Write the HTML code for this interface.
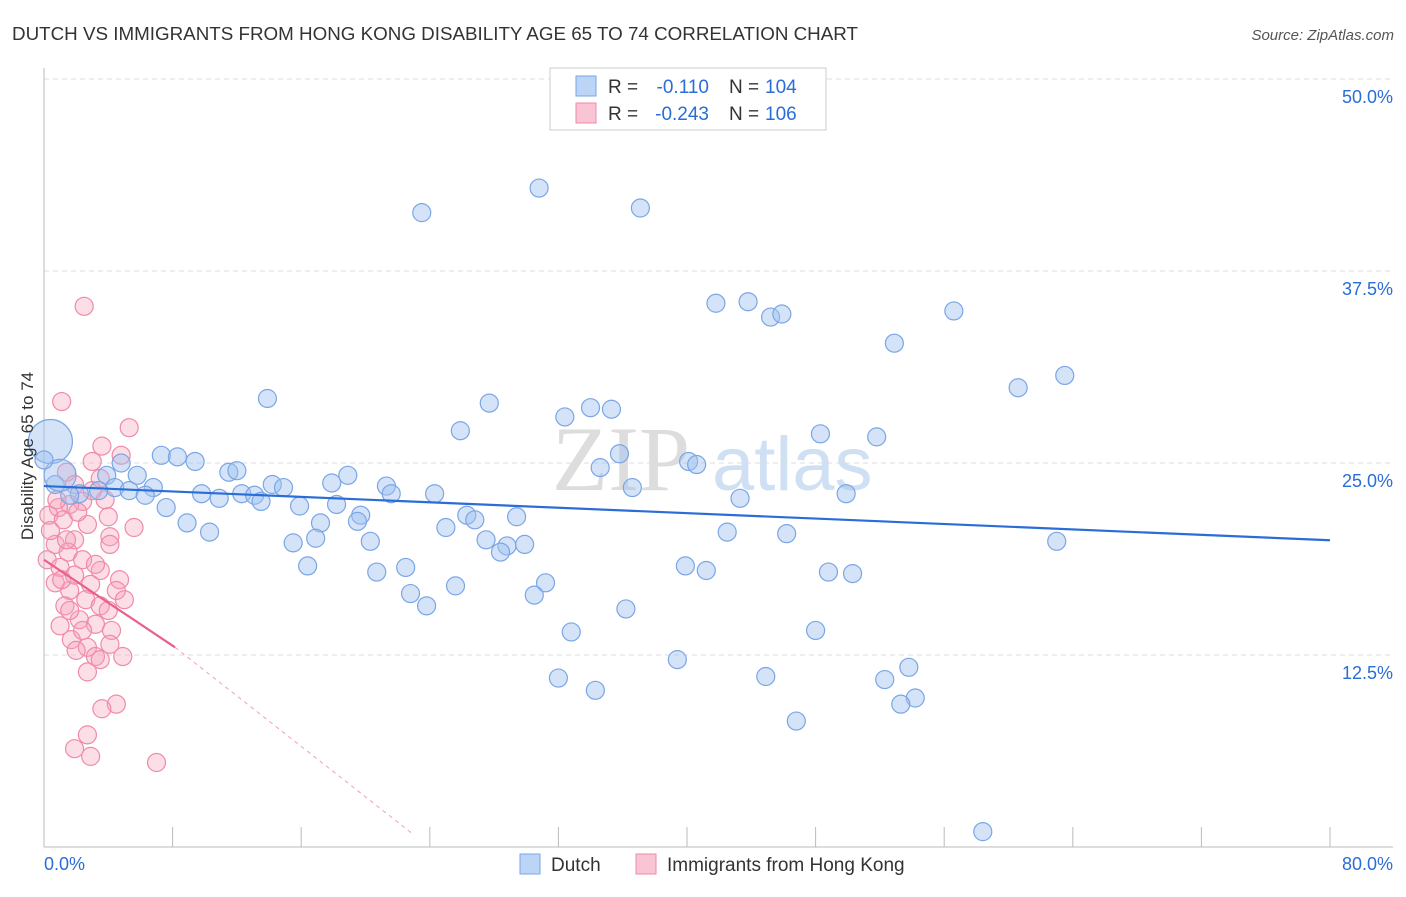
<!DOCTYPE html>
<html><head><meta charset="utf-8"><style>
body{margin:0;background:#fff;font-family:"Liberation Sans",sans-serif}
</style></head><body>
<svg id="chart" width="1406" height="892" viewBox="0 0 1406 892" xmlns="http://www.w3.org/2000/svg" font-family="Liberation Sans, sans-serif">
<text x="12" y="40" font-size="18.5" fill="#333" textLength="846" lengthAdjust="spacingAndGlyphs">DUTCH VS IMMIGRANTS FROM HONG KONG DISABILITY AGE 65 TO 74 CORRELATION CHART</text>
<text x="1394" y="40" font-size="15" fill="#555" text-anchor="end" font-style="italic">Source: ZipAtlas.com</text>
<g><text x="552" y="490" font-size="92" fill="#ddd" font-family="Liberation Serif, serif">ZIP</text><text x="712" y="490" font-size="76" fill="#cfe0f4">atlas</text></g>
<g id="grid"></g><g id="axes"></g><g id="pts"></g><g id="lines"></g>
<text transform="translate(33,456) rotate(-90)" font-size="17" fill="#333" text-anchor="middle">Disability Age 65 to 74</text>
<g>
<rect x="550" y="68" width="276" height="62" fill="#fff" stroke="#ccc"/>
<rect x="576" y="76" width="20" height="20" fill="#bcd4f5" stroke="#7aa6e6"/>
<rect x="576" y="103" width="20" height="20" fill="#f9c5d4" stroke="#f08aa8"/>
<text x="608" y="93" font-size="19" fill="#333">R =</text>
<text x="709" y="93" font-size="19" fill="#2a6dd6" text-anchor="end">-0.110</text>
<text x="729" y="93" font-size="19" fill="#333">N =</text>
<text x="765" y="93" font-size="19" fill="#2a6dd6">104</text>
<text x="608" y="120" font-size="19" fill="#333">R =</text>
<text x="709" y="120" font-size="19" fill="#2a6dd6" text-anchor="end">-0.243</text>
<text x="729" y="120" font-size="19" fill="#333">N =</text>
<text x="765" y="120" font-size="19" fill="#2a6dd6">106</text>
</g>
<g>
<rect x="520" y="854" width="20" height="20" fill="#bcd4f5" stroke="#7aa6e6"/>
<text x="551" y="871" font-size="19" fill="#333">Dutch</text>
<rect x="636" y="854" width="20" height="20" fill="#f9c5d4" stroke="#f08aa8"/>
<text x="667" y="871" font-size="19" fill="#333">Immigrants from Hong Kong</text>
</g>
</svg>
<script>
const yTicks=[12.5,25.0,37.5,50.0];
const xTickLabels=["0.0%","80.0%"];
const dutchX=[30.8,23.5,37.1,41.8,43.8,45.2,45.9,56.6,52.9,63.5,60.6,13.9,27.7,32.4,34.0,35.3,25.9,48.3,51.8,35.8,34.6,40.1,40.6,7.3,8.3,9.4,4.8,5.8,3.9,11.5,12.0,18.9,14.2,14.9,17.9,21.3,21.6,24.3,36.6,43.3,49.9,4.4,5.3,6.8,6.3,3.4,2.2,1.6,0.7,9.8,10.9,12.3,13.1,13.5,7.6,15.9,18.2,8.9,10.3,17.2,19.7,19.5,26.3,26.8,29.4,25.0,16.9,15.5,20.3,27.5,28.8,29.9,28.4,42.5,46.2,63.0,16.4,20.7,22.5,39.9,41.2,48.8,50.3,25.6,31.2,22.8,30.5,23.8,36.2,32.8,48.0,39.4,53.8,32.0,44.9,52.3,34.3,54.2,53.3,46.8,58.4,0.4,1.0,0.0];
const dutchY=[42.9,41.3,41.6,35.4,35.5,34.5,34.7,34.9,32.8,30.7,29.9,29.2,28.9,28.0,28.6,28.5,27.1,26.9,26.7,25.6,24.7,25.1,24.9,25.5,25.4,25.1,25.0,24.2,24.2,24.4,24.5,24.2,23.6,23.4,23.7,23.5,23.0,23.0,23.4,22.7,23.0,23.4,23.2,23.4,22.9,23.2,23.0,22.9,23.6,23.0,22.7,23.0,22.9,22.5,22.1,22.2,22.3,21.1,20.5,21.1,21.6,21.2,21.6,21.3,21.5,20.8,20.1,19.8,19.9,20.0,19.6,19.7,19.2,20.5,20.4,19.9,18.3,17.9,18.2,18.3,18.0,17.9,17.8,17.0,17.2,16.5,16.4,15.7,15.5,14.0,14.1,12.2,11.7,11.0,11.1,10.9,10.2,9.7,9.3,8.2,1.0,26.4,24.2,25.2];
const dutchSize=dutchX.map((_,i)=>i===101?22:(i===102?16:9));
const hkX=[2.5,1.1,5.3,3.6,4.8,3.0,1.4,1.9,3.5,3.8,2.4,1.6,0.9,0.3,1.2,2.7,4.0,5.6,4.1,1.9,0.7,1.5,0.2,2.4,1.0,3.5,4.7,2.9,1.6,0.7,2.6,1.3,3.5,2.2,1.0,3.2,4.2,1.7,2.7,2.0,3.2,4.9,2.7,4.5,3.6,2.7,1.9,2.9,7.0,1.4,0.4,0.8,3.0,2.1,1.1,1.6,4.0,4.1,3.5,2.4,4.5,5.0,4.1,1.9,3.2];
const hkY=[35.2,29.0,27.3,26.1,25.5,25.1,24.4,23.6,24.0,22.6,22.5,22.3,22.1,21.6,21.3,21.0,21.5,20.8,20.2,20.0,19.7,19.2,18.7,18.7,18.2,18.0,17.4,17.1,16.7,17.2,16.1,15.7,15.7,14.8,14.4,14.5,14.1,13.5,13.0,12.8,12.4,12.4,11.4,9.3,9.0,7.3,6.4,5.9,5.5,20.0,20.6,22.6,23.2,21.8,17.4,15.4,15.4,13.2,12.2,14.1,16.7,16.1,19.7,17.7,18.4];
const dutchLine=[23.5,19.97];
const hkLine=[18.7,13.0,8.15];
const hkExtEnd=[23.0,0.8];
const NS="http://www.w3.org/2000/svg";
const xs=v=>44+v*1286/80, ys=v=>847-v*15.36;
function mk(t,a,p){const e=document.createElementNS(NS,t);for(const k in a)e.setAttribute(k,a[k]);p.appendChild(e);return e;}
const grid=document.getElementById('grid'),axes=document.getElementById('axes'),pts=document.getElementById('pts'),lines=document.getElementById('lines');
yTicks.forEach(v=>{const l=mk('line',{x1:44,x2:1393,y1:ys(v),y2:ys(v),stroke:'#ddd','stroke-dasharray':'5,4'},grid);


const t=mk('text',{x:1393,y:ys(v)+24,'font-size':18,fill:'#2a6dd6','text-anchor':'end'},grid);t.textContent=v.toFixed(1)+'%';

});
const ya=mk('line',{x1:44,x2:44,y1:68,y2:847,stroke:'#bbb'},axes);


const xa=mk('line',{x1:44,x2:1393,y1:847,y2:847,stroke:'#bbb'},axes);


for(let i=1;i<=10;i++){const tk=mk('line',{x1:xs(i*8),x2:xs(i*8),y1:827,y2:847,stroke:'#bbb'},axes);

}
[[0,'start',44],[80,'end',1393]].forEach((d,i)=>{const t=mk('text',{x:d[2],y:870,'font-size':18,fill:'#2a6dd6','text-anchor':d[1]},axes);t.textContent=xTickLabels[i];

});
hkX.forEach((x,i)=>{const c=mk('circle',{cx:xs(x),cy:ys(hkY[i]),r:9,fill:'rgba(245,160,185,0.35)',stroke:'#f08aa8','stroke-width':1.2},pts);

});
dutchX.forEach((x,i)=>{const c=mk('circle',{cx:xs(x),cy:ys(dutchY[i]),r:dutchSize[i],fill:'rgba(160,192,240,0.45)',stroke:'#7aa6e6','stroke-width':1.2},pts);

});
const dl=mk('line',{x1:xs(0),y1:ys(dutchLine[0]),x2:xs(80),y2:ys(dutchLine[1]),stroke:'#2a6dd6','stroke-width':2.2},lines);


const hl=mk('line',{x1:xs(0),y1:ys(hkLine[0]),x2:xs(hkLine[2]),y2:ys(hkLine[1]),stroke:'#e8608a','stroke-width':2.2},lines);


const hd=mk('line',{x1:xs(hkLine[2]),y1:ys(hkLine[1]),x2:xs(hkExtEnd[0]),y2:ys(hkExtEnd[1]),stroke:'#f0a0b8','stroke-width':1,'stroke-dasharray':'4,4'},lines);


</script>
</body></html>
